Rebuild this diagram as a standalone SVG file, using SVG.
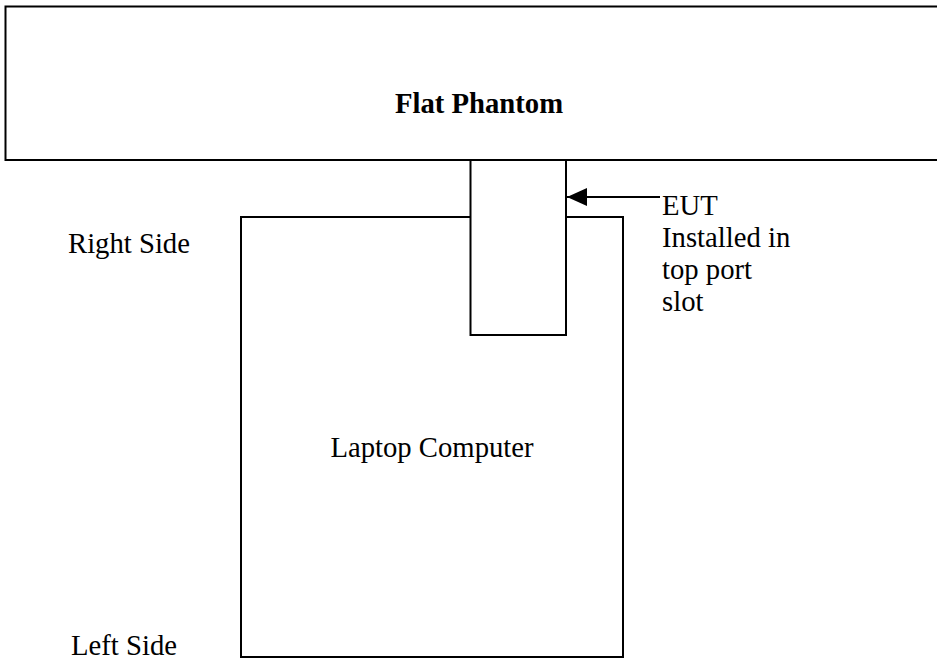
<svg xmlns="http://www.w3.org/2000/svg" width="937" height="663" viewBox="0 0 937 663">
<style>
.box{fill:none;stroke:#000;stroke-width:2}
.eut{fill:#fff;stroke:#000;stroke-width:2}
text{font-family:"Liberation Serif","Times New Roman",serif;font-size:28.7px;fill:#000}
.b{font-weight:bold}
</style>
<defs>
<marker id="ah" markerUnits="userSpaceOnUse" markerWidth="20" markerHeight="18" refX="20" refY="9" orient="auto" viewBox="0 0 20 18">
<path d="M20,9 L0,0 L0,18 Z" fill="#000"/>
</marker>
</defs>
<rect width="937" height="663" fill="#fff"/>
<g id="phantom">
<path class="box" d="M945,6.5 H5.5 V160 H945"/>
<text class="b" x="479" y="113" text-anchor="middle">Flat Phantom</text>
</g>
<g id="laptop">
<rect class="box" x="241" y="217" width="382" height="440"/>
<text x="432" y="457" text-anchor="middle">Laptop Computer</text>
</g>
<g id="eut">
<rect class="eut" x="470.5" y="160" width="95.5" height="175"/>
</g>
<g id="labels">
<text x="68" y="253">Right Side</text>
<text x="71" y="655">Left Side</text>
<text x="662" y="215">EUT</text>
<text x="662" y="247">Installed in</text>
<text x="662" y="279">top port</text>
<text x="662" y="311">slot</text>
</g>
<g id="connectors">
<line x1="660" y1="197" x2="567" y2="197" stroke="#000" stroke-width="2" marker-end="url(#ah)"/>
</g>
</svg>
